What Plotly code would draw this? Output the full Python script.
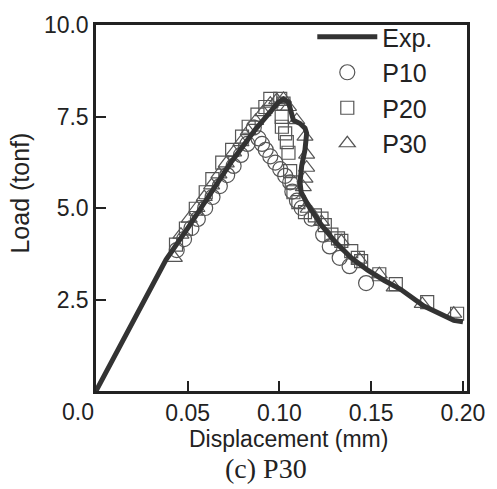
import plotly.graph_objects as go

# ---- data ----
exp_x = [0, 0.013, 0.0238, 0.031, 0.0382, 0.050, 0.0616, 0.0740, 0.0869, 0.0950, 0.0995,
         0.1022, 0.1049, 0.1066, 0.1076, 0.1112, 0.1139, 0.1148, 0.1139, 0.1121, 0.1112,
         0.1118, 0.1157, 0.1229, 0.1301, 0.1391, 0.1481, 0.1571, 0.1660, 0.1787, 0.1880,
         0.1950, 0.2000]
exp_y = [0, 1.22, 2.29, 2.92, 3.59, 4.45, 5.34, 6.28, 7.15, 7.65, 7.89,
         7.98, 7.89, 7.58, 7.40, 7.31, 7.18, 7.04, 6.59, 6.15, 5.70,
         5.43, 5.07, 4.53, 4.09, 3.64, 3.30, 3.02, 2.78, 2.32, 2.08,
         1.93, 1.89]

p10_x = [0.0440, 0.0480, 0.0520, 0.0555, 0.0595, 0.0635, 0.0675, 0.0715, 0.0750, 0.0790,
         0.0825, 0.0860, 0.0886, 0.0905, 0.0925, 0.0950, 0.0977, 0.1004, 0.1031, 0.1058,
         0.1070, 0.1095, 0.1121, 0.1175, 0.1238, 0.1274, 0.1328, 0.1382, 0.1472]
p10_y = [3.85, 4.15, 4.45, 4.70, 5.00, 5.30, 5.60, 5.90, 6.15, 6.45,
         6.75, 7.20, 6.90, 6.75, 6.59, 6.41, 6.24, 6.06, 5.88, 5.70,
         5.45, 5.20, 5.00, 4.71, 4.27, 3.95, 3.64, 3.41, 2.95]

p20_x = [0.0436, 0.0490, 0.0544, 0.0598, 0.0634, 0.0688, 0.0742, 0.0796, 0.0832, 0.0880,
         0.0923, 0.0950, 0.1004, 0.1022, 0.1012, 0.1013, 0.1031, 0.1040, 0.1049, 0.1058,
         0.1067, 0.1076, 0.1103, 0.1139, 0.1193, 0.1229, 0.1247, 0.1283, 0.1319, 0.1337,
         0.1391, 0.1427, 0.1445, 0.1544, 0.1634, 0.1805, 0.1968]
p20_y = [4.00, 4.44, 4.98, 5.43, 5.79, 6.24, 6.59, 6.95, 7.22, 7.55,
         7.76, 7.98, 7.98, 7.85, 7.49, 7.22, 7.04, 6.80, 6.51, 6.01,
         5.70, 5.43, 5.16, 4.89, 4.80, 4.71, 4.53, 4.27, 4.17, 4.10,
         3.82, 3.64, 3.55, 3.19, 2.92, 2.43, 2.11]

p30_x = [0.0427, 0.0463, 0.0508, 0.0550, 0.0590, 0.0630, 0.0670, 0.0710, 0.0750, 0.0790,
         0.0830, 0.0870, 0.0910, 0.0950, 0.0985, 0.1022, 0.1049, 0.1094, 0.1139, 0.1148,
         0.1148, 0.1139, 0.1130, 0.1157, 0.1229, 0.1337, 0.1436, 0.1544, 0.1625, 0.1778,
         0.1950]
p30_y = [3.64, 4.27, 4.71, 5.00, 5.30, 5.62, 5.92, 6.22, 6.52, 6.80,
         7.10, 7.38, 7.62, 7.85, 7.95, 7.98, 7.76, 7.40, 6.95, 6.46,
         6.10, 5.80, 5.57, 4.98, 4.62, 4.09, 3.59, 3.19, 2.83, 2.38,
         2.11]

x_ticks = [0.05, 0.10, 0.15, 0.20]
x_labels = ["0.05", "0.10", "0.15", "0.20"]
y_ticks = [2.5, 5.0, 7.5, 10.0]
y_labels = ["2.5", "5.0", "7.5", "10.0"]

SANS = "Liberation Sans, Arial, Helvetica, sans-serif"
INK = "#222222"
MK = "#555555"

fig = go.Figure()
fig.add_trace(go.Scatter(x=p10_x, y=p10_y, mode="markers", name="P10", legendrank=2,
                         marker=dict(symbol="circle-open", size=15, color=MK, line=dict(width=1.2))))
fig.add_trace(go.Scatter(x=p20_x, y=p20_y, mode="markers", name="P20", legendrank=3,
                         marker=dict(symbol="square-open", size=13, color=MK, line=dict(width=1.2))))
fig.add_trace(go.Scatter(x=p30_x, y=p30_y, mode="markers", name="P30", legendrank=4,
                         marker=dict(symbol="triangle-up-open", size=14, color=MK, line=dict(width=1.2))))
fig.add_trace(go.Scatter(x=exp_x, y=exp_y, mode="lines", name="Exp.", legendrank=1,
                         line=dict(color="#333333", width=5)))

axis_common = dict(showgrid=False, zeroline=False, showline=True, linecolor=INK, linewidth=2.5,
                   mirror=True, ticks="inside", ticklen=10, tickwidth=2, tickcolor=INK,
                   tickfont=dict(family=SANS, size=23, color=INK))
fig.update_xaxes(range=[0, 0.2022], tickvals=x_ticks, ticktext=x_labels, **axis_common)
fig.update_yaxes(range=[0, 10], tickvals=y_ticks, ticktext=y_labels, **axis_common)

fig.update_layout(
    width=497, height=489,
    margin=dict(l=96, r=27, t=21, b=98),
    paper_bgcolor="white", plot_bgcolor="white",
    showlegend=True,
    legend=dict(x=0.583, y=1.03, xanchor="left", yanchor="top", bgcolor="rgba(0,0,0,0)",
                font=dict(family=SANS, size=25, color=INK), itemsizing="trace",
                tracegroupgap=0, itemwidth=60),
    annotations=[
        dict(text="0.0", xref="paper", yref="paper", x=0, y=0, xanchor="right", yanchor="middle",
             xshift=0, yshift=-21, showarrow=False, font=dict(family=SANS, size=23, color=INK)),
        dict(text="Load (tonf)", xref="paper", yref="paper", x=-0.206, y=0.541, textangle=-90,
             xanchor="center", yanchor="middle", showarrow=False,
             font=dict(family=SANS, size=25, color=INK)),
        dict(text="Displacement (mm)", xref="paper", yref="paper", x=0.519, y=-0.13,
             xanchor="center", yanchor="middle", showarrow=False,
             font=dict(family=SANS, size=23, color=INK)),
        dict(text="(c) P30", xref="paper", yref="paper", x=0.457, y=-0.212,
             xanchor="center", yanchor="middle", showarrow=False,
             font=dict(family="Liberation Serif, Times New Roman, serif", size=28, color=INK)),
    ],
)

fig.write_html("out.html")
